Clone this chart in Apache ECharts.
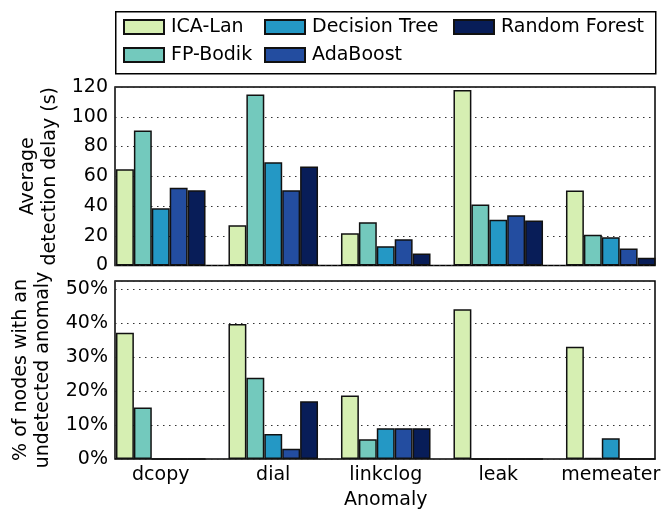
<!DOCTYPE html>
<html>
<head>
<meta charset="utf-8">
<script src="https://cdn.jsdelivr.net/npm/echarts@6/dist/echarts.min.js"></script>
<style>
  html, body { margin: 0; padding: 0; background: #fff; }
  #chart { width: 670px; height: 512px; }
</style>
</head>
<body>
<div id="chart"></div>
<script>
// categories and methods
const categories = ['dcopy', 'dial', 'linkclog', 'leak', 'memeater']
const methods = ['ICA-Lan', 'FP-Bodik', 'Decision Tree', 'AdaBoost', 'Random Forest']
const colors = ['#d6efb2', '#73c9bd', '#2498c5', '#234da0', '#081d58']

// average detection delay (s)
const delayIcaLan = [64.7, 27.1, 21.7, 118, 50.4]
const delayFpBodik = [90.7, 114.9, 29.1, 41, 20.6]
const delayDecisionTree = [38.5, 69.4, 13, 30.7, 19]
const delayAdaBoost = [52.2, 50.6, 17.7, 33.8, 11.4]
const delayRandomForest = [50.6, 66.5, 8, 30.2, 5.2]

// % of nodes with an undetected anomaly
const undetIcaLan = [37.2, 39.8, 18.7, 44.2, 33.1]
const undetFpBodik = [15.2, 24, 5.8, 0, 0.3]
const undetDecisionTree = [0, 7.4, 9.1, 0, 6.1]
const undetAdaBoost = [0, 3.0, 9.1, 0, 0]
const undetRandomForest = [0, 17, 9.1, 0, 0]

const delayData = [delayIcaLan, delayFpBodik, delayDecisionTree, delayAdaBoost, delayRandomForest]
const undetData = [undetIcaLan, undetFpBodik, undetDecisionTree, undetAdaBoost, undetRandomForest]

const FONT = 'DejaVu Sans'
const FS = 19
const dotted = { show: true, lineStyle: { color: '#333', width: 1, type: [1.5, 4.5] } }

const makeBars = (data, idx) => data.map((vals, i) => ({
  name: methods[i],
  type: 'bar',
  xAxisIndex: idx,
  yAxisIndex: idx,
  data: vals,
  barGap: 0,
  barCategoryGap: '20.4%',
  itemStyle: { color: colors[i], borderColor: '#111', borderWidth: 1.5 },
  silent: true
}))

const legendText = { fontFamily: FONT, fontSize: FS, color: '#000', lineHeight: 22, padding: [0, 0, 0, 2] }
const makeLegend = (left, names) => ({
  left: left,
  top: 16,
  orient: 'vertical',
  itemWidth: 40,
  itemHeight: 14,
  itemGap: 6,
  icon: 'rect',
  padding: 0,
  selectedMode: false,
  data: names,
  textStyle: legendText
})

const chart = echarts.init(document.getElementById('chart'))

const option = {
  animation: false,
  backgroundColor: '#fff',
  graphic: [{
    type: 'rect',
    left: 115,
    top: 11,
    shape: { width: 540, height: 62 },
    style: { fill: '#fff', stroke: '#000', lineWidth: 1.5 },
    z: -1
  }],
  legend: [
    makeLegend(123, ['ICA-Lan', 'FP-Bodik']),
    makeLegend(264, ['Decision Tree', 'AdaBoost']),
    makeLegend(453, ['Random Forest'])
  ],
  grid: [
    // bar grids (category bands)
    { left: 104.5, right: 3, top: 87, height: 178.5 },
    { left: 104.5, right: 3, top: 281, height: 178 },
    // frame grids
    { left: 115, right: 15, top: 87, height: 178.5, show: true, borderColor: '#000', borderWidth: 1.5, backgroundColor: 'transparent' },
    { left: 115, right: 15, top: 281, height: 178, show: true, borderColor: '#000', borderWidth: 1.5, backgroundColor: 'transparent' }
  ],
  xAxis: [
    { type: 'category', gridIndex: 0, data: categories, show: false },
    {
      type: 'category', gridIndex: 1, data: categories,
      axisLine: { show: false }, axisTick: { show: false },
      axisLabel: { fontFamily: FONT, fontSize: FS, color: '#000', margin: 7, interval: 0 },
      name: 'Anomaly', nameLocation: 'middle', nameGap: 32,
      nameTextStyle: { fontFamily: FONT, fontSize: FS, color: '#000' }
    },
    { type: 'value', gridIndex: 2, min: 0, max: 1, show: false },
    { type: 'value', gridIndex: 3, min: 0, max: 1, show: false }
  ],
  yAxis: [
    { type: 'value', gridIndex: 0, min: 0, max: 120, show: false },
    { type: 'value', gridIndex: 1, min: 0, max: 52.5, show: false },
    {
      type: 'value', gridIndex: 2, min: 0, max: 120, interval: 20,
      axisLine: { show: false }, axisTick: { show: false },
      splitLine: dotted,
      axisLabel: { fontFamily: FONT, fontSize: FS, color: '#000', margin: 7 },
      name: 'Average\ndetection delay (s)', nameLocation: 'middle', nameGap: 50,
      nameTextStyle: { fontFamily: FONT, fontSize: FS, color: '#000', lineHeight: 22 }
    },
    {
      type: 'value', gridIndex: 3, min: 0, max: 52.5, interval: 10,
      axisLine: { show: false }, axisTick: { show: false },
      splitLine: dotted,
      axisLabel: {
        fontFamily: FONT, fontSize: FS, color: '#000', margin: 7,
        formatter: v => (v % 10 === 0 ? v + '%' : '')
      },
      name: '% of nodes with an\nundetected anomaly', nameLocation: 'middle', nameGap: 61,
      nameTextStyle: { fontFamily: FONT, fontSize: FS, color: '#000', lineHeight: 22 }
    }
  ],
  series: [...makeBars(delayData, 0), ...makeBars(undetData, 1)]
}

chart.setOption(option)
</script>
</body>
</html>
